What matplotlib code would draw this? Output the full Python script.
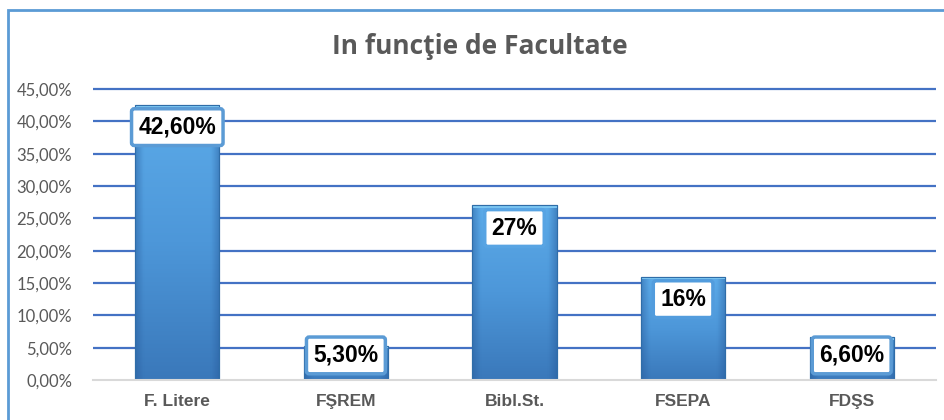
import matplotlib
matplotlib.use("Agg")
import matplotlib.pyplot as plt
import numpy as np
from matplotlib.patches import Rectangle
from matplotlib.colors import LinearSegmentedColormap
from matplotlib.ticker import FixedLocator, FuncFormatter

categories = ["F. Litere", "FŞREM", "Bibl.St.", "FSEPA", "FDŞS"]
values = [0.426, 0.053, 0.27, 0.16, 0.066]
labels = ["42,60%", "5,30%", "27%", "16%", "6,60%"]
yticks = [0.0, 0.05, 0.10, 0.15, 0.20, 0.25, 0.30, 0.35, 0.40, 0.45]
title = "In funcţie de Facultate"

W, H = 945, 420
fig = plt.figure(figsize=(W / 100, H / 100), dpi=100)
fig.patch.set_facecolor("white")

# outer chart border
fig.patches.append(Rectangle((8 / W, -0.05), 1.2, 1 - 10 / H + 0.05,
                             transform=fig.transFigure, fill=False,
                             edgecolor="#5B9BD5", linewidth=2.0, zorder=0))

ymax = 0.455
px_per_unit = (380 - 89) / 0.45
top_px = 380 - ymax * px_per_unit
ax = fig.add_axes([93 / W, 1 - 380 / H, (936 - 93) / W, (380 - top_px) / H])
ax.set_xlim(-0.5, len(categories) - 0.5)
ax.set_ylim(0, ymax)

for s in ["top", "right", "left"]:
    ax.spines[s].set_visible(False)
ax.spines["bottom"].set_color("#D9D9D9")
ax.spines["bottom"].set_linewidth(1.5)

ax.yaxis.set_major_locator(FixedLocator(yticks))
ax.yaxis.set_major_formatter(FuncFormatter(lambda v, p: f"{v*100:.2f}%".replace(".", ",")))
ax.tick_params(axis="y", length=0, pad=15, labelsize=12, labelcolor="#595959")
for t in ax.get_yticklabels():
    t.set_family("Lato")
ax.set_axisbelow(True)
ax.yaxis.grid(True, color="#4472C4", linewidth=1.6)
ax.grid(axis="x", visible=False)
gl = ax.yaxis.get_gridlines()
gl[0].set_visible(False)

ax.set_xticks(range(len(categories)))
ax.set_xticklabels(categories, family="Liberation Sans", fontweight="bold",
                   fontsize=12.5, color="#595959")
ax.tick_params(axis="x", length=0, pad=10)

cmap = LinearSegmentedColormap.from_list("bar", ["#3A78BA", "#4D97D9", "#5CABE9"])
grad = np.linspace(0, 1, 256).reshape(-1, 1)
hgrad = np.linspace(0, 1, 64)
bars = ax.bar(range(len(categories)), values, width=0.5, color="#4D97D9",
              edgecolor="#2F6DA8", linewidth=0.8, zorder=2)
for b in bars:
    x0, y0, w, h = b.get_x(), b.get_y(), b.get_width(), b.get_height()
    im = ax.imshow(grad, extent=[x0, x0 + w, y0, y0 + h], origin="lower",
                   cmap=cmap, aspect="auto", zorder=2.1, interpolation="bilinear")
    im.set_clip_path(b)
    side = np.abs(hgrad - 0.5).reshape(1, -1) * 2
    side = np.clip((side - 0.8) / 0.2, 0, 1)
    rgba = np.zeros((1, 64, 4))
    rgba[..., 0:3] = np.array([0.15, 0.35, 0.6])
    rgba[..., 3] = side * 0.45
    im2 = ax.imshow(rgba, extent=[x0, x0 + w, y0, y0 + h], aspect="auto",
                    zorder=2.2, interpolation="bilinear")
    im2.set_clip_path(b)
    ax.add_patch(Rectangle((x0, y0 + h - 0.004), w, 0.004, facecolor="#7CC6F2",
                           edgecolor="none", zorder=2.3))
    ax.add_patch(Rectangle((x0, y0), w, h, fill=False, edgecolor="#2F6DA8",
                           linewidth=0.8, zorder=2.4))
ax.set_xlim(-0.5, len(categories) - 0.5)
ax.set_ylim(0, ymax)

edge_colors = ["#5B9BD5", "#5B9BD5", "#58A4E3", "#529CDD", "#5B9BD5"]
for i, (v, lab) in enumerate(zip(values, labels)):
    ytop = max(v, 0.073)
    ax.annotate(lab, xy=(i, ytop), xytext=(0, -8), textcoords="offset points",
                ha="center", va="top", fontsize=16.5, fontweight="bold",
                family="Liberation Sans", color="black", zorder=5,
                bbox=dict(boxstyle="round,pad=0.3,rounding_size=0.12",
                          facecolor="white", edgecolor=edge_colors[i],
                          linewidth=2.5))

fig.text(480 / W, 1 - 46 / H, title, ha="center", va="center",
         fontsize=19, fontweight="bold", family="Open Sans", color="#595959")

fig.savefig("out.png", dpi=100)
